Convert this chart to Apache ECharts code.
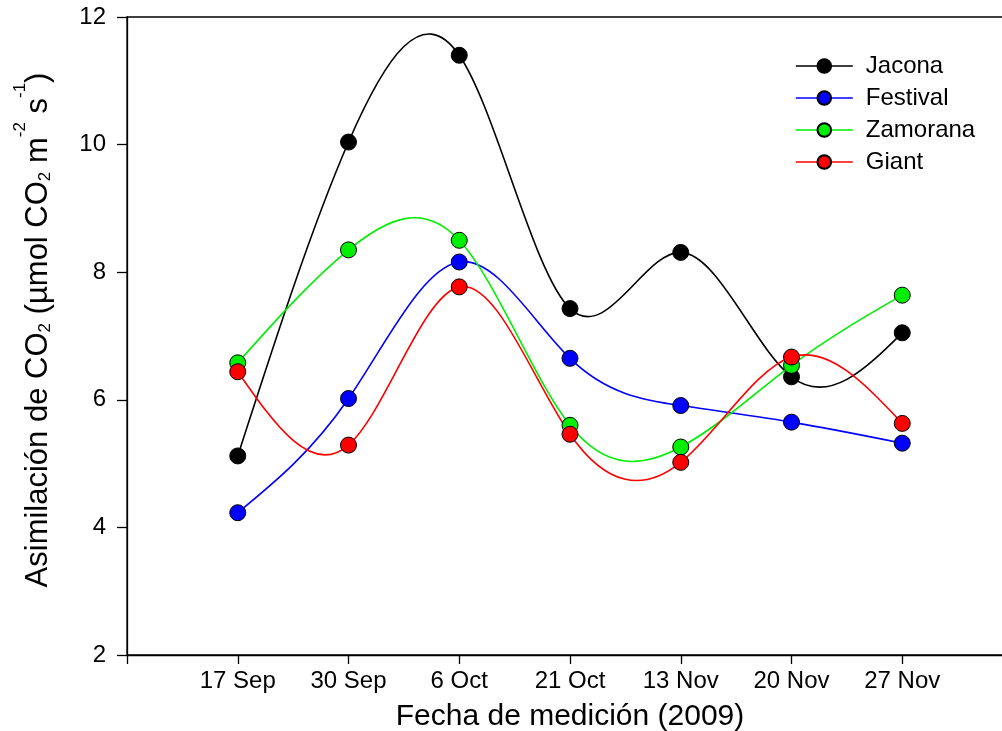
<!DOCTYPE html>
<html>
<head>
<meta charset="utf-8">
<script src="https://cdn.jsdelivr.net/npm/echarts@6/dist/echarts.min.js"></script>
<style>
  html, body { margin: 0; padding: 0; background: #fff; overflow: hidden; }
  /* the frame runs a little past the right edge of the window */
  #chart { width: 1014px; height: 731px; }
</style>
</head>
<body>
<div id="chart"></div>
<script>
// Measurement dates (2009) and CO2 assimilation per variety
const fechas = ['17 Sep', '30 Sep', '6 Oct', '21 Oct', '13 Nov', '20 Nov', '27 Nov'];
const jacona   = [5.12, 10.04, 11.40, 7.43, 8.31, 6.36, 7.05];
const festival = [4.23, 6.02, 8.16, 6.65, 5.91, 5.65, 5.32];
const zamorana = [6.58, 8.35, 8.50, 5.60, 5.26, 6.54, 7.64];
const giant    = [6.44, 5.29, 7.77, 5.46, 5.02, 6.67, 5.63];
const yTicks   = [2, 4, 6, 8, 10, 12];

const FONT = '"Liberation Sans", Arial, sans-serif';

// x positions 1..7 on a numeric axis, so the origin tick sits at 0
const toPoints = vals => vals.map((v, i) => [i + 1, v]);

// Natural cubic spline slopes for equally spaced samples (step 1)
function splineSlopes(y) {
  const n = y.length;
  const M = new Array(n).fill(0);
  if (n > 2) {
    const m = n - 2, a = [], d = [];
    for (let i = 1; i <= m; i++) {
      a.push(4);
      d.push(6 * (y[i + 1] - 2 * y[i] + y[i - 1]));
    }
    // Thomas algorithm for the tridiagonal system (1, 4, 1)
    for (let i = 1; i < m; i++) {
      const w = 1 / a[i - 1];
      a[i] -= w;
      d[i] -= w * d[i - 1];
    }
    const s = new Array(m);
    s[m - 1] = d[m - 1] / a[m - 1];
    for (let i = m - 2; i >= 0; i--) s[i] = (d[i] - s[i + 1]) / a[i];
    for (let i = 0; i < m; i++) M[i + 1] = s[i];
  }
  const slopes = [];
  for (let i = 0; i < n; i++) {
    if (i < n - 1) slopes.push((y[i + 1] - y[i]) - (2 * M[i] + M[i + 1]) / 6);
    else slopes.push((y[i] - y[i - 1]) + (M[i - 1] + 2 * M[i]) / 6);
  }
  return slopes;
}

// Spline curve: each data item draws the bezier segment to the next point
function curve(name, color, vals) {
  const k = splineSlopes(vals);
  return {
    name: name + ' curva',
    type: 'custom',
    coordinateSystem: 'cartesian2d',
    data: toPoints(vals),
    silent: true,
    z: 2,
    renderItem: (params, api) => {
      const i = params.dataIndex;
      if (i >= vals.length - 1) return null;
      const p0 = api.coord([i + 1, vals[i]]);
      const p1 = api.coord([i + 2, vals[i + 1]]);
      const c0 = api.coord([i + 1 + 1 / 3, vals[i] + k[i] / 3]);
      const c1 = api.coord([i + 2 - 1 / 3, vals[i + 1] - k[i + 1] / 3]);
      return {
        type: 'bezierCurve',
        shape: { x1: p0[0], y1: p0[1], x2: p1[0], y2: p1[1],
                 cpx1: c0[0], cpy1: c0[1], cpx2: c1[0], cpy2: c1[1] },
        style: { stroke: color, fill: null, lineWidth: 1.6 }
      };
    }
  };
}

function points(name, color, vals) {
  return {
    name: name,
    type: 'line',
    data: toPoints(vals),
    symbol: 'circle',
    symbolSize: 16,
    lineStyle: { color: color, width: 1.6, opacity: 0 },
    itemStyle: { color: color, borderColor: '#000', borderWidth: 1 },
    emphasis: { disabled: true },
    z: 3
  };
}

const variedades = [
  ['Jacona', '#000000', jacona],
  ['Festival', '#0000ff', festival],
  ['Zamorana', '#00ee00', zamorana],
  ['Giant', '#ff0000', giant]
];

const series = [];
variedades.forEach(v => series.push(curve(v[0], v[1], v[2])));
variedades.forEach(v => series.push(points(v[0], v[1], v[2])));

const chart = echarts.init(document.getElementById('chart'), null, { renderer: 'canvas' });

chart.setOption({
  animation: false,
  backgroundColor: '#fff',
  grid: {
    left: 127, right: 1, top: 17, bottom: 76,
    outerBoundsMode: 'none',
    show: true, borderColor: '#000', borderWidth: 1.3, backgroundColor: 'transparent'
  },
  legend: {
    orient: 'vertical',
    left: 790, top: 49,
    itemWidth: 57, itemHeight: 17, itemGap: 8,
    textStyle: { fontFamily: FONT, fontSize: 24, lineHeight: 24, color: '#000', padding: [0, 0, 0, 8] },
    data: variedades.map(v => ({
      name: v[0],
      lineStyle: { color: v[1], width: 1.6, opacity: 1 }
    }))
  },
  xAxis: {
    type: 'value',
    min: 0, max: 8, interval: 1,
    name: 'Fecha de medición (2009)',
    nameLocation: 'middle', nameGap: 47,
    nameTextStyle: { fontFamily: FONT, fontSize: 30, color: '#000' },
    axisLine: { show: true, lineStyle: { color: '#000', width: 1.3 } },
    axisTick: { show: true, length: 9, inside: false, lineStyle: { color: '#000', width: 1.3 } },
    axisLabel: {
      fontFamily: FONT, fontSize: 24, color: '#000', margin: 14,
      formatter: v => (v >= 1 && v <= fechas.length) ? fechas[v - 1] : ''
    },
    splitLine: { show: false }
  },
  yAxis: {
    type: 'value',
    min: yTicks[0], max: yTicks[yTicks.length - 1], interval: 2,
    name: '{t|Asimilación de CO}{s|2}{t| (µmol CO}{s|2}{t| m}{p|-2}{t| s}{p|-1}{t|)}',
    nameLocation: 'middle', nameGap: 73, nameRotate: 90,
    nameTextStyle: {
      fontFamily: FONT, color: '#000', padding: [0, 0, 0, 12],
      rich: {
        t: { fontFamily: FONT, fontSize: 31, color: '#000', verticalAlign: 'bottom', lineHeight: 31 },
        s: { fontFamily: FONT, fontSize: 17, color: '#000', verticalAlign: 'bottom', lineHeight: 11 },
        p: { fontFamily: FONT, fontSize: 17, color: '#000', verticalAlign: 'top', lineHeight: 42 }
      }
    },
    axisLine: { show: true, lineStyle: { color: '#000', width: 1.3 } },
    axisTick: { show: true, length: 10, inside: false, lineStyle: { color: '#000', width: 1.3 } },
    axisLabel: { fontFamily: FONT, fontSize: 24, color: '#000', margin: 21 },
    splitLine: { show: false }
  },
  series: series
});
</script>
</body>
</html>
